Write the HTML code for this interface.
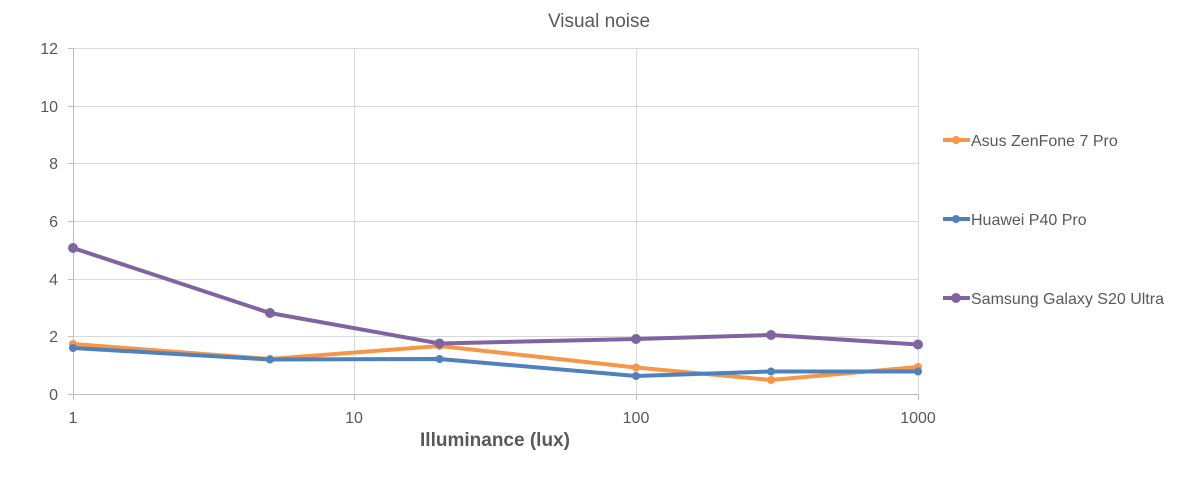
<!DOCTYPE html>
<html><head><meta charset="utf-8"><style>
body{margin:0;background:#fff;width:1200px;height:477px;overflow:hidden}
svg text{font-family:"Liberation Sans",sans-serif;fill:#595959}
</style></head><body>
<svg width="1200" height="477" xmlns="http://www.w3.org/2000/svg">
<text x="599" y="27" font-size="19" text-anchor="middle">Visual noise</text>
<g stroke="#d9d9d9" stroke-width="1">
<line x1="73" y1="48.5" x2="918" y2="48.5"/>
<line x1="73" y1="106.5" x2="918" y2="106.5"/>
<line x1="73" y1="163.5" x2="918" y2="163.5"/>
<line x1="73" y1="221.5" x2="918" y2="221.5"/>
<line x1="73" y1="279.5" x2="918" y2="279.5"/>
<line x1="73" y1="336.5" x2="918" y2="336.5"/>
<line x1="354.5" y1="48" x2="354.5" y2="394"/>
<line x1="636.5" y1="48" x2="636.5" y2="394"/>
<line x1="918.5" y1="48" x2="918.5" y2="394"/>
</g>
<g stroke="#bfbfbf"><line x1="73.5" y1="48" x2="73.5" y2="400"/><line x1="68" y1="394.5" x2="918" y2="394.5"/>
<line x1="68" y1="48.5" x2="73" y2="48.5"/><line x1="68" y1="106.5" x2="73" y2="106.5"/><line x1="68" y1="163.5" x2="73" y2="163.5"/><line x1="68" y1="221.5" x2="73" y2="221.5"/><line x1="68" y1="279.5" x2="73" y2="279.5"/><line x1="68" y1="336.5" x2="73" y2="336.5"/>
<line x1="354.5" y1="394" x2="354.5" y2="400"/><line x1="636.5" y1="394" x2="636.5" y2="400"/><line x1="918.5" y1="394" x2="918.5" y2="400"/></g>
<g font-size="16" text-anchor="end">
<text x="58" y="54">12</text><text x="58" y="112">10</text><text x="58" y="169">8</text><text x="58" y="227">6</text><text x="58" y="285">4</text><text x="58" y="342">2</text><text x="58" y="400">0</text></g>
<g font-size="16" text-anchor="middle">
<text x="73" y="423">1</text><text x="354" y="423">10</text><text x="636" y="423">100</text><text x="918" y="423">1000</text></g>
<text x="495" y="446" font-size="19" font-weight="bold" text-anchor="middle">Illuminance (lux)</text>
<polyline fill="none" stroke="#f79646" stroke-width="4" points="73,344 270,359 439.5,346 636,367.5 771,380 918,367"/>
<polyline fill="none" stroke="#4f81bd" stroke-width="4" points="73,348 270,359.5 439.5,359 636,376 771,371.5 918,371.5"/>
<polyline fill="none" stroke="#8064a2" stroke-width="4" points="73,248 270,313 439.5,343.5 636,339 771,335 918,344.5"/>
<g fill="#f79646"><circle cx="73" cy="344" r="4"/><circle cx="270" cy="359" r="4"/><circle cx="439.5" cy="346" r="4"/><circle cx="636" cy="367.5" r="4"/><circle cx="771" cy="380" r="4"/><circle cx="918" cy="367" r="4"/></g>
<g fill="#4f81bd"><circle cx="73" cy="348" r="4"/><circle cx="270" cy="359.5" r="4"/><circle cx="439.5" cy="359" r="4"/><circle cx="636" cy="376" r="4"/><circle cx="771" cy="371.5" r="4"/><circle cx="918" cy="371.5" r="4"/></g>
<g fill="#8064a2"><circle cx="73" cy="248" r="5"/><circle cx="270" cy="313" r="5"/><circle cx="439.5" cy="343.5" r="5"/><circle cx="636" cy="339" r="5"/><circle cx="771" cy="335" r="5"/><circle cx="918" cy="344.5" r="5"/></g>
<g font-size="16">
<line x1="943" y1="140" x2="970" y2="140" stroke="#f79646" stroke-width="4"/><circle cx="956" cy="140" r="4" fill="#f79646"/><text x="971" y="146">Asus ZenFone 7 Pro</text>
<line x1="943" y1="219" x2="970" y2="219" stroke="#4f81bd" stroke-width="4"/><circle cx="956" cy="219" r="4" fill="#4f81bd"/><text x="971" y="225">Huawei P40 Pro</text>
<line x1="943" y1="298" x2="970" y2="298" stroke="#8064a2" stroke-width="4"/><circle cx="956" cy="298" r="5" fill="#8064a2"/><text x="971" y="304">Samsung Galaxy S20 Ultra</text>
</g>
</svg>
</body></html>
